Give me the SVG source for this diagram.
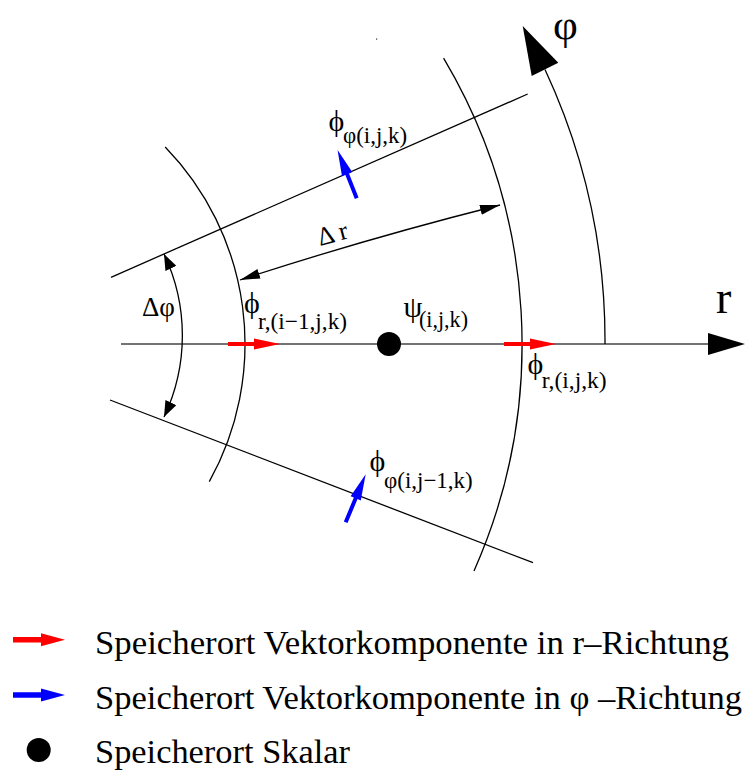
<svg xmlns="http://www.w3.org/2000/svg" width="746" height="773" viewBox="0 0 746 773">
<style>
.ln{fill:none;stroke:#000;stroke-width:1.3}
.ax{fill:none;stroke:#444;stroke-width:1.6}
.t{font-family:"Liberation Serif","DejaVu Serif",serif;fill:#000}
.leg{font-family:"Liberation Serif","DejaVu Serif",serif;font-size:33.5px;fill:#000}
</style>
<defs>
<marker id="dimHead" markerUnits="userSpaceOnUse" markerWidth="20" markerHeight="10" refX="20" refY="5" orient="auto-start-reverse" viewBox="0 0 20 10">
<path d="M0,0 L20,5 L0,10 Z" fill="#000"/>
</marker>
<marker id="angHead" markerUnits="userSpaceOnUse" markerWidth="16" markerHeight="12" refX="16" refY="6" orient="auto-start-reverse" viewBox="0 0 16 12">
<path d="M0,0 L16,6 L0,12 Z" fill="#000"/>
</marker>
<path id="vec" d="M0,-2 L26,-2 L26,-5.5 L52,0 L26,5.5 L26,2 L0,2 Z"/>
<path id="legvec" d="M0,-2.7 L28,-2.7 L28,-6.5 L52,0 L28,6.5 L28,2.7 L0,2.7 Z"/>
</defs>

<g id="grid">
<path class="ln" d="M111,277.3 L527.7,94"/>
<path class="ln" d="M110,400 L533,562.7"/>
<path class="ln" d="M165.2,147 A283,283 0 0 1 209.3,481.6"/>
<path class="ln" d="M443.6,58.1 A560,560 0 0 1 474,570.9"/>
<path class="ax" d="M121,344 L712,344"/>
<polygon points="708,333 745,344 708,355" fill="#000"/>
<path class="ln" d="M605,344 A643,643 0 0 0 545,69.5"/>
<polygon points="522.7,26 531.7,76 558.3,62.7" fill="#000"/>
<rect x="376" y="38.5" width="1.2" height="1.2" fill="#333"/>
</g>

<g id="connectors">
<path id="dr" class="ln" d="M240,280 Q365,239 500,205" marker-start="url(#dimHead)" marker-end="url(#dimHead)"/>
<path id="dphi" class="ln" d="M164,254 A190,190 0 0 1 164,417" marker-start="url(#angHead)" marker-end="url(#angHead)"/>
</g>

<g id="vectors">
<use href="#vec" fill="#f00" transform="translate(228,344)"/>
<use href="#vec" fill="#f00" transform="translate(504,344)"/>
<use href="#vec" fill="#00f" transform="translate(356.7,198.3) rotate(-111.6)"/>
<use href="#vec" fill="#00f" transform="translate(345.7,522.3) rotate(-67.4)"/>
<circle id="scalar" cx="389" cy="344" r="12" fill="#000"/>
</g>

<g id="labels">
<text class="t" x="553" y="39" font-size="43">φ</text>
<text class="t" x="716" y="313" font-size="46">r</text>
<text class="t" x="142" y="316" font-size="27">Δφ</text>
<text class="t" x="320" y="246" font-size="26" transform="rotate(-15 320 246)">Δ r</text>
<text class="t"><tspan x="328.5" y="131" font-size="30">ϕ</tspan><tspan x="343" y="143" font-size="23" textLength="64" lengthAdjust="spacingAndGlyphs">φ(i,j,k)</tspan></text>
<text class="t"><tspan x="244" y="313" font-size="30">ϕ</tspan><tspan x="258" y="328.5" font-size="23" textLength="89" lengthAdjust="spacingAndGlyphs">r,(i−1,j,k)</tspan></text>
<text class="t"><tspan x="403.5" y="317" font-size="30">ψ</tspan><tspan x="419" y="326.5" font-size="23" textLength="49" lengthAdjust="spacingAndGlyphs">(i,j,k)</tspan></text>
<text class="t"><tspan x="527.5" y="374" font-size="30">ϕ</tspan><tspan x="541.7" y="388" font-size="23" textLength="65" lengthAdjust="spacingAndGlyphs">r,(i,j,k)</tspan></text>
<text class="t"><tspan x="369.5" y="471" font-size="30">ϕ</tspan><tspan x="384" y="487.5" font-size="23" textLength="88.7" lengthAdjust="spacingAndGlyphs">φ(i,j−1,k)</tspan></text>
</g>

<g id="legend">
<use href="#legvec" fill="#f00" transform="translate(13,639.7)"/>
<use href="#legvec" fill="#00f" transform="translate(13,695)"/>
<circle cx="38.7" cy="750" r="12" fill="#000"/>
<text class="leg" x="95" y="654" textLength="634" lengthAdjust="spacingAndGlyphs">Speicherort Vektorkomponente in r–Richtung</text>
<text class="leg" x="95" y="709" textLength="647" lengthAdjust="spacingAndGlyphs">Speicherort Vektorkomponente in φ –Richtung</text>
<text class="leg" x="95" y="763" textLength="255" lengthAdjust="spacingAndGlyphs">Speicherort Skalar</text>
</g>
</svg>
